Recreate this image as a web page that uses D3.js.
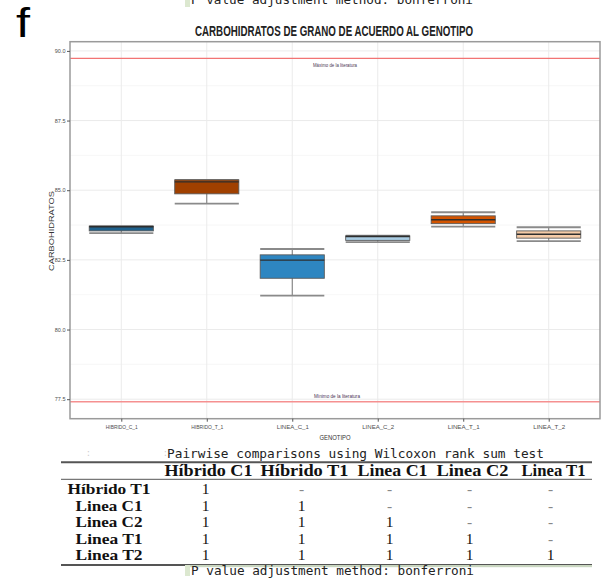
<!DOCTYPE html>
<html>
<head>
<meta charset="utf-8">
<script src="https://cdn.jsdelivr.net/npm/d3@7"></script>
<style>
  body { margin: 0; background: #fff; }
  svg { display: block; }
</style>
</head>
<body>
<svg id="chart" width="605" height="586"></svg>
<script>
// box plot data
const categories = ["HIBRIDO_C_1", "HIBRIDO_T_1", "LINEA_C_1", "LINEA_C_2", "LINEA_T_1", "LINEA_T_2"];
const mins    = [83.46, 84.52, 81.22, 83.14, 83.69, 83.17];
const q1s     = [83.54, 84.87, 81.84, 83.20, 83.80, 83.28];
const medians = [83.69, 85.30, 82.49, 83.34, 83.94, 83.42];
const q3s     = [83.71, 85.37, 82.68, 83.36, 84.08, 83.54];
const maxs    = [83.71, 85.37, 82.89, 83.37, 84.21, 83.67];
const fills   = ["#1f618d", "#a04000", "#2e86c1", "#a9cce3", "#d35400", "#f5cba7"];
const yTicks  = [77.5, 80.0, 82.5, 85.0, 87.5, 90.0];
const yMinor  = [78.75, 81.25, 83.75, 86.25, 88.75];
const litMax = 89.73, litMin = 77.41;

// pairwise table
const colHeads = ["Híbrido C1", "Híbrido T1", "Linea C1", "Linea C2", "Linea T1"];
const rowHeads = ["Híbrido T1", "Linea C1", "Linea C2", "Linea T1", "Linea T2"];
const pvals = [
  ["1", "-", "-", "-", "-"],
  ["1", "1", "-", "-", "-"],
  ["1", "1", "1", "-", "-"],
  ["1", "1", "1", "1", "-"],
  ["1", "1", "1", "1", "1"]
];

const svg = d3.select("#chart");
const panel = { left: 70, right: 600, top: 41.7, bottom: 418.7 };

const x = d3.scalePoint().domain(categories).range([panel.left, panel.right]).padding(0.6);
const y = d3.scaleLinear().domain([76.8, 90.33]).range([panel.bottom, panel.top]);
const step = x.step();
const bw = step * 0.75;

// cut-off text at very top
svg.append("rect").attr("x", 185).attr("y", 0).attr("width", 5).attr("height", 7).attr("fill", "#dce8d0");
svg.append("text").attr("x", 191).attr("y", 4)
  .attr("font-family", "DejaVu Sans Mono, monospace").attr("font-size", 12.5)
  .attr("textLength", 282).attr("lengthAdjust", "spacingAndGlyphs").attr("fill", "#222")
  .text("P value adjustment method: bonferroni");

// panel label
svg.append("text").attr("x", 16).attr("y", 37)
  .attr("font-family", "Liberation Sans, Arial, sans-serif").attr("font-size", 40)
  .attr("textLength", 14).attr("lengthAdjust", "spacingAndGlyphs")
  .text("f");

// title
svg.append("text").attr("x", 334).attr("y", 35.5).attr("text-anchor", "middle")
  .attr("font-family", "Liberation Sans Narrow, Liberation Sans, Arial, sans-serif")
  .attr("font-weight", "bold").attr("font-size", 14.5).attr("fill", "#222")
  .attr("textLength", 278).attr("lengthAdjust", "spacingAndGlyphs")
  .text("CARBOHIDRATOS DE GRANO DE ACUERDO AL GENOTIPO");

// grid
const grid = svg.append("g");
grid.selectAll(".minor").data(yMinor).enter().append("line")
  .attr("x1", panel.left).attr("x2", panel.right)
  .attr("y1", d => y(d)).attr("y2", d => y(d))
  .attr("stroke", "#f3f3f3").attr("stroke-width", 0.7);
grid.selectAll(".major").data(yTicks).enter().append("line")
  .attr("x1", panel.left).attr("x2", panel.right)
  .attr("y1", d => y(d)).attr("y2", d => y(d))
  .attr("stroke", "#ebebeb").attr("stroke-width", 1);
grid.selectAll(".vmajor").data(categories).enter().append("line")
  .attr("x1", d => x(d)).attr("x2", d => x(d))
  .attr("y1", panel.top).attr("y2", panel.bottom)
  .attr("stroke", "#ebebeb").attr("stroke-width", 1);

// literature lines
svg.append("line").attr("x1", panel.left).attr("x2", panel.right)
  .attr("y1", y(litMax)).attr("y2", y(litMax)).attr("stroke", "#f27474").attr("stroke-width", 1.3);
svg.append("line").attr("x1", panel.left).attr("x2", panel.right)
  .attr("y1", y(litMin)).attr("y2", y(litMin)).attr("stroke", "#f59090").attr("stroke-width", 1.6);
const midX = (x(categories[2]) + x(categories[3])) / 2;
svg.append("text").attr("x", midX).attr("y", y(89.5) + 2).attr("text-anchor", "middle")
  .attr("font-family", "Liberation Sans Narrow, Liberation Sans, sans-serif").attr("font-size", 5)
  .attr("fill", "#4a3552").attr("textLength", 44).attr("lengthAdjust", "spacingAndGlyphs")
  .text("Máximo de la literatura");
svg.append("text").attr("x", midX + 2).attr("y", y(77.62) + 2).attr("text-anchor", "middle")
  .attr("font-family", "Liberation Sans Narrow, Liberation Sans, sans-serif").attr("font-size", 5)
  .attr("fill", "#4a3552").attr("textLength", 46).attr("lengthAdjust", "spacingAndGlyphs")
  .text("Mínimo de la literatura");

// boxes
const boxes = svg.selectAll(".box").data(categories).enter().append("g");
boxes.append("line")
  .attr("x1", d => x(d)).attr("x2", d => x(d))
  .attr("y1", (d, i) => y(mins[i])).attr("y2", (d, i) => y(maxs[i]))
  .attr("stroke", "#777").attr("stroke-width", 1);
boxes.append("line")
  .attr("x1", d => x(d) - bw / 2).attr("x2", d => x(d) + bw / 2)
  .attr("y1", (d, i) => y(mins[i])).attr("y2", (d, i) => y(mins[i]))
  .attr("stroke", "#8a8a8a").attr("stroke-width", 1.8);
boxes.append("line")
  .attr("x1", d => x(d) - bw / 2).attr("x2", d => x(d) + bw / 2)
  .attr("y1", (d, i) => y(maxs[i])).attr("y2", (d, i) => y(maxs[i]))
  .attr("stroke", "#8a8a8a").attr("stroke-width", 1.8);
boxes.append("rect")
  .attr("x", d => x(d) - bw / 2).attr("width", bw)
  .attr("y", (d, i) => y(q3s[i])).attr("height", (d, i) => y(q1s[i]) - y(q3s[i]))
  .attr("fill", (d, i) => fills[i]).attr("stroke", "#5a5a5a").attr("stroke-width", 0.9);
boxes.append("line")
  .attr("x1", d => x(d) - bw / 2).attr("x2", d => x(d) + bw / 2)
  .attr("y1", (d, i) => y(medians[i])).attr("y2", (d, i) => y(medians[i]))
  .attr("stroke", "#2e2e2e").attr("stroke-width", 1.4);

// panel border
svg.append("rect").attr("x", panel.left).attr("y", panel.top)
  .attr("width", panel.right - panel.left).attr("height", panel.bottom - panel.top)
  .attr("fill", "none").attr("stroke", "#9a9a9a").attr("stroke-width", 1.5);

// axes
const yAxis = svg.append("g").attr("transform", `translate(${panel.left},0)`)
  .call(d3.axisLeft(y).tickValues(yTicks).tickSize(3).tickPadding(1.5).tickFormat(d3.format(".1f")));
yAxis.select(".domain").remove();
yAxis.selectAll("line").attr("stroke", "#555");
yAxis.selectAll("text").attr("font-family", "Liberation Sans Narrow, Liberation Sans, sans-serif")
  .attr("font-size", 5.5).attr("fill", "#4d4d4d");

const xAxis = svg.append("g").attr("transform", `translate(0,${panel.bottom})`)
  .call(d3.axisBottom(x).tickSize(3).tickPadding(3));
xAxis.select(".domain").remove();
xAxis.selectAll("line").attr("stroke", "#555");
xAxis.selectAll("text").attr("font-family", "Liberation Sans Narrow, Liberation Sans, sans-serif")
  .attr("font-size", 6).attr("fill", "#4d4d4d")
  .attr("textLength", 32).attr("lengthAdjust", "spacingAndGlyphs");

svg.append("text").attr("x", 335).attr("y", 440).attr("text-anchor", "middle")
  .attr("font-family", "Liberation Sans Narrow, Liberation Sans, sans-serif").attr("font-size", 8)
  .attr("fill", "#333").attr("textLength", 31).attr("lengthAdjust", "spacingAndGlyphs")
  .text("GENOTIPO");
svg.append("text").attr("transform", "translate(53.5,231) rotate(-90)").attr("text-anchor", "middle")
  .attr("font-family", "Liberation Sans, Arial, sans-serif").attr("font-size", 7.5)
  .attr("fill", "#333").attr("textLength", 80).attr("lengthAdjust", "spacingAndGlyphs")
  .text("CARBOHIDRATOS");

// table
const mono = "DejaVu Sans Mono, Liberation Mono, monospace";
const serif = "Liberation Serif, Times New Roman, serif";
svg.append("text").attr("x", 167).attr("y", 457.5)
  .attr("font-family", mono).attr("font-size", 13).attr("fill", "#222")
  .attr("textLength", 377).attr("lengthAdjust", "spacingAndGlyphs")
  .text("Pairwise comparisons using Wilcoxon rank sum test");
[86, 163].forEach(px => svg.append("text").attr("x", px).attr("y", 456)
  .attr("font-family", mono).attr("font-size", 8).attr("fill", "#ccc").text(":"));

const tblL = 61, tblR = 592;
svg.append("line").attr("x1", tblL).attr("x2", tblR).attr("y1", 462.3).attr("y2", 462.3)
  .attr("stroke", "#555").attr("stroke-width", 2);
svg.append("line").attr("x1", tblL).attr("x2", tblR).attr("y1", 479.3).attr("y2", 479.3)
  .attr("stroke", "#777").attr("stroke-width", 1.2);
svg.append("line").attr("x1", tblL).attr("x2", tblR).attr("y1", 565).attr("y2", 565)
  .attr("stroke", "#555").attr("stroke-width", 2);
svg.append("rect").attr("x", 185).attr("y", 565).attr("width", tblR - 185).attr("height", 2.2).attr("fill", "#c9d6c0");
svg.append("rect").attr("x", 185).attr("y", 565).attr("width", 5).attr("height", 11).attr("fill", "#dce8d0");

// table column layout (pixel centres and widths of the header cells)
const colCenters = [208.5, 304.5, 392.5, 472.5, 553.5];
const colW = [88, 88, 70, 72, 64];
svg.selectAll(".colh").data(colHeads).enter().append("text")
  .attr("x", (d, i) => colCenters[i]).attr("y", 476).attr("text-anchor", "middle")
  .attr("font-family", serif).attr("font-weight", "bold").attr("font-size", 16).attr("fill", "#111")
  .attr("textLength", (d, i) => colW[i]).attr("lengthAdjust", "spacingAndGlyphs")
  .text(d => d);

const rowY = d3.scalePoint().domain(rowHeads).range([494, 560]);
svg.selectAll(".rowh").data(rowHeads).enter().append("text")
  .attr("x", 109).attr("y", d => rowY(d)).attr("text-anchor", "middle")
  .attr("font-family", serif).attr("font-weight", "bold").attr("font-size", 15.5).attr("fill", "#111")
  .attr("textLength", (d, i) => i === 0 ? 83 : 67).attr("lengthAdjust", "spacingAndGlyphs")
  .text(d => d);

rowHeads.forEach((r, i) => {
  svg.selectAll(".cell" + i).data(pvals[i]).enter().append("text")
    .attr("x", (d, j) => colCenters[j] - 3).attr("y", rowY(r)).attr("text-anchor", "middle")
    .attr("font-family", serif).attr("font-size", 15.5)
    .attr("fill", d => d === "-" ? "#888" : "#111")
    .text(d => d);
});

// bottom text
svg.append("text").attr("x", 191).attr("y", 574.5)
  .attr("font-family", mono).attr("font-size", 12.5).attr("fill", "#222")
  .attr("textLength", 283).attr("lengthAdjust", "spacingAndGlyphs")
  .text("P value adjustment method: bonferroni");
</script>
</body>
</html>
